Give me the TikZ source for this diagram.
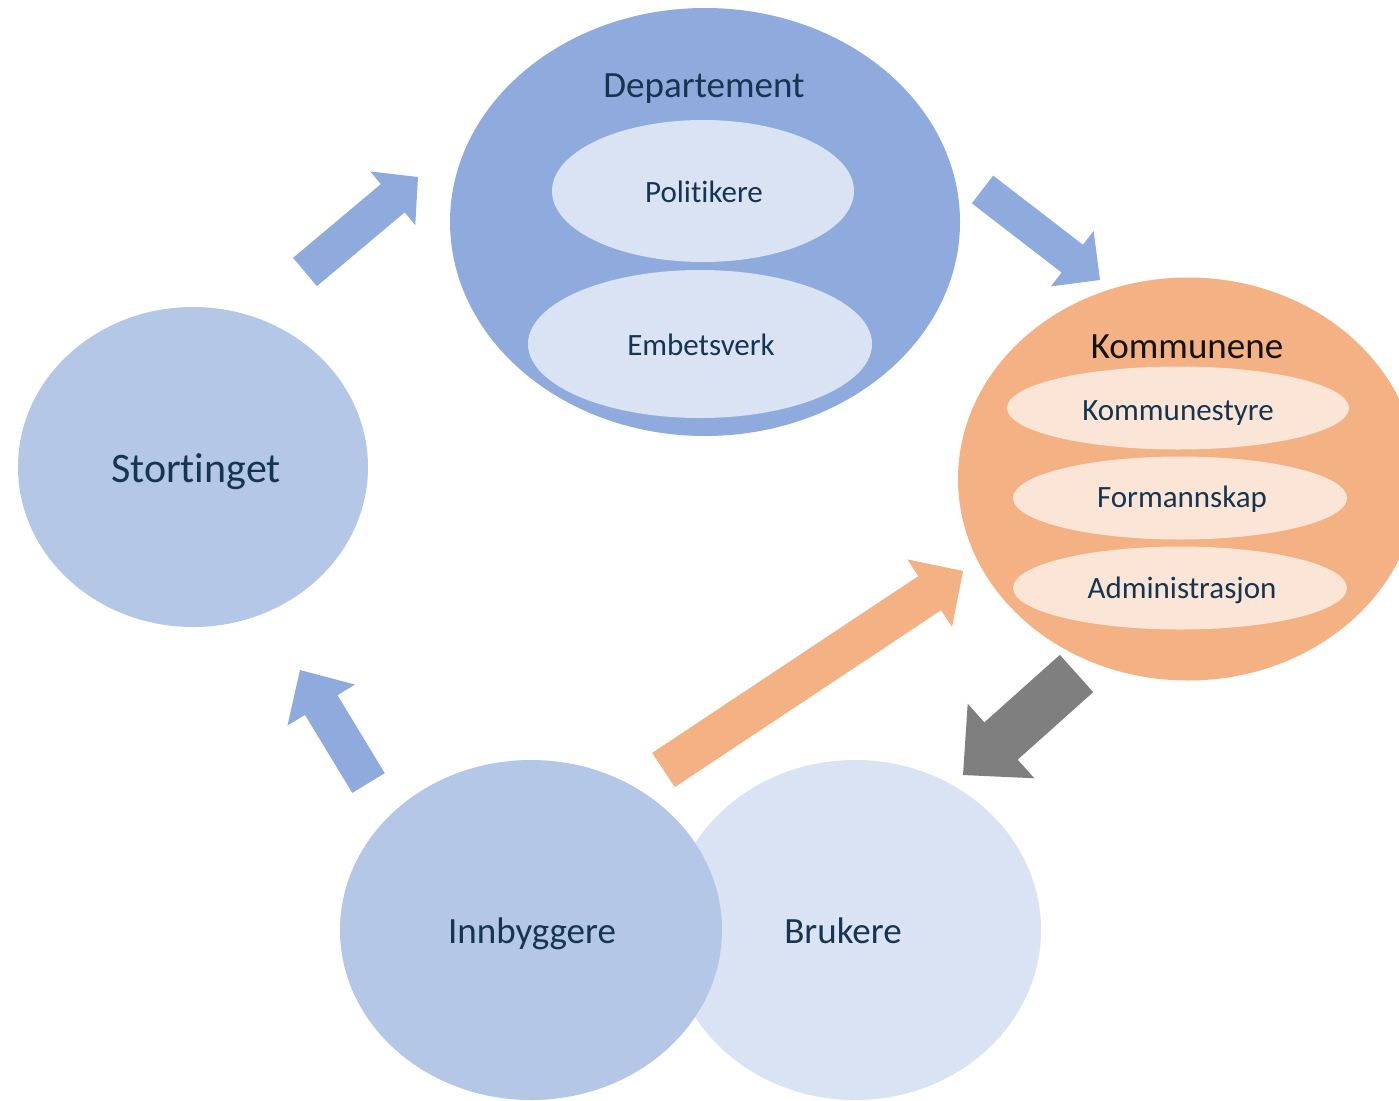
\documentclass[tikz,border=0pt]{standalone}
\usepackage{fontspec}
\setmainfont{Carlito}[Ligatures={NoCommon}]
\usetikzlibrary{shapes.geometric,calc}
\definecolor{blueA}{HTML}{8FAADC}
\definecolor{blueB}{HTML}{B4C7E7}
\definecolor{blueC}{HTML}{DAE3F3}
\definecolor{orA}{HTML}{F4B183}
\definecolor{orB}{HTML}{FBE5D6}
\definecolor{grayA}{HTML}{7F7F7F}
\definecolor{txt}{HTML}{153550}
\definecolor{txtK}{HTML}{121212}
% #1 colour, #2 tail, #3 tip, #4 half shaft, #5 half head, #6 head length
\newcommand{\blockarrow}[6]{%
  \coordinate (hb) at ($(#3)!#6!(#2)$);
  \fill[#1] ($(#2)!#4!90:(#3)$) -- ($(hb)!#4!90:(#3)$) -- ($(hb)!#5!90:(#3)$)
    -- (#3) -- ($(hb)!#5!-90:(#3)$) -- ($(hb)!#4!-90:(#3)$)
    -- ($(#2)!#4!-90:(#3)$) -- cycle;
}
\tikzset{
  blob/.style={ellipse, inner sep=0pt, draw=none},
  lbl/.style={anchor=base, inner sep=0pt, text=txt, font=\fontsize{37}{40}\selectfont},
  sublbl/.style={anchor=base, inner sep=0pt, text=txt, font=\fontsize{31}{34}\selectfont},
}
\begin{document}
\begin{tikzpicture}[x=1pt,y=-1pt]
\useasboundingbox (0,0) rectangle (1399,1100);
\clip (0,0) rectangle (1399,1100);
\fill[white] (0,0) rectangle (1399,1100);

% Departement
\node[blob, fill=blueA, minimum width=510pt, minimum height=428pt] (dep) at (705,222) {};
\node[blob, fill=blueC, minimum width=302pt, minimum height=142pt] (pol) at (703,191) {};
\node[blob, fill=blueC, minimum width=344pt, minimum height=148pt] (emb) at (700,344) {};
\node[lbl] (deplbl) at (704,97) {Departement};
\node[sublbl] (pollbl) at (704,202) {Politikere};
\node[sublbl] (emblbl) at (701,355) {Embetsverk};

% Kommunene
\node[blob, fill=orA, minimum width=460pt, minimum height=403pt] (kom) at (1188,479) {};
\node[blob, fill=orB, minimum width=342pt, minimum height=83pt] (kst) at (1178,408) {};
\node[blob, fill=orB, minimum width=334pt, minimum height=83pt] (frm) at (1180,498) {};
\node[blob, fill=orB, minimum width=334pt, minimum height=83pt] (adm) at (1180,588) {};
\node[lbl, text=txtK] (komlbl) at (1187,358) {Kommunene};
\node[sublbl] (kstlbl) at (1178,420) {Kommunestyre};
\node[sublbl] (frmlbl) at (1182,507) {Formannskap};
\node[sublbl] (admlbl) at (1182,598) {Administrasjon};

% Stortinget
\node[blob, fill=blueB, minimum width=350pt, minimum height=320pt] (sto) at (193,467) {};
\node[lbl, font=\fontsize{42}{46}\selectfont] (stolbl) at (196,482) {Stortinget};

% Brukere and Innbyggere
\node[blob, fill=blueC, minimum width=372pt, minimum height=340pt] (bru) at (855,930) {};
\node[blob, fill=blueB, minimum width=382pt, minimum height=340pt] (inn) at (531,930) {};
\node[lbl] (innlbl) at (532,943) {Innbyggere};
\node[lbl] (brulbl) at (843,943) {Brukere};

% arrow end points
\coordinate (a1t) at (305,272);   \coordinate (a1h) at (418,177);
\coordinate (a2t) at (982.5,189.5); \coordinate (a2h) at (1100,280);
\coordinate (a3t) at (1076.5,673.5); \coordinate (a3h) at (963,775);
\coordinate (a4t) at (663.5,770); \coordinate (a4h) at (963,571);
\coordinate (a5t) at (368.5,783); \coordinate (a5h) at (300,670);

\blockarrow{blueA}{a1t}{a1h}{18.5pt}{35pt}{33pt}
\blockarrow{blueA}{a2t}{a2h}{17.5pt}{35pt}{35pt}
\blockarrow{grayA}{a3t}{a3h}{25pt}{50pt}{51pt}
\blockarrow{orA}{a4t}{a4h}{20.5pt}{40.5pt}{40pt}
\blockarrow{blueA}{a5t}{a5h}{19pt}{39.5pt}{41pt}
\end{tikzpicture}
\end{document}
